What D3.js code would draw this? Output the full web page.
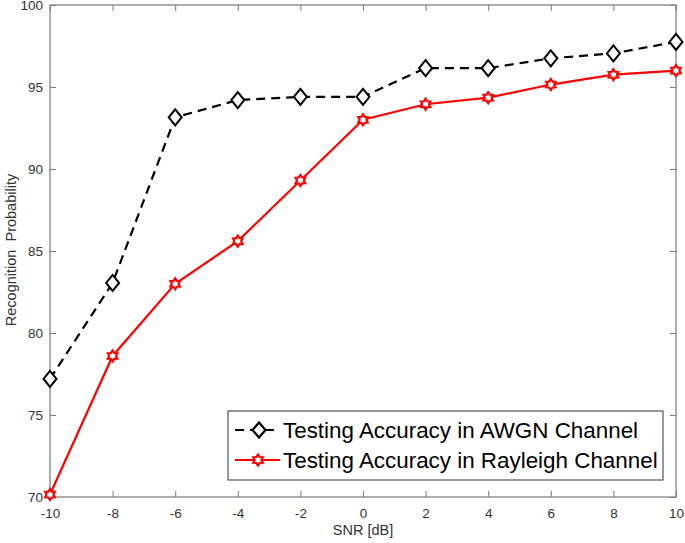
<!DOCTYPE html>
<html>
<head>
<meta charset="utf-8">
<script src="https://cdn.jsdelivr.net/npm/d3@7"></script>
<style>
body { margin: 0; background: #fff; }
text { font-family: "Liberation Sans", Arial, sans-serif; }
</style>
</head>
<body>
<div id="chart"></div>
<script>
var snr = [-10, -8, -6, -4, -2, 0, 2, 4, 6, 8, 10];
var awgn = [77.2, 83.05, 93.15, 94.2, 94.4, 94.4, 96.15, 96.15, 96.75, 97.05, 97.75];
var rayleigh = [70.15, 78.6, 83.0, 85.6, 89.3, 93.0, 93.95, 94.35, 95.15, 95.75, 96.0];
var xTicks = [-10, -8, -6, -4, -2, 0, 2, 4, 6, 8, 10];
var yTicks = [70, 75, 80, 85, 90, 95, 100];
var seriesNames = ["Testing Accuracy in AWGN Channel", "Testing Accuracy in Rayleigh Channel"];

var svgWidth = 685;
var svgHeight = 543;
var plotLeft = 50, plotRight = 676, plotTop = 5, plotBottom = 497;

var svg = d3.select("#chart")
.append("svg")
.attr("width", svgWidth)
.attr("height", svgHeight);

var xScale = d3.scaleLinear().domain([-10, 10]).range([plotLeft, plotRight]);
var yScale = d3.scaleLinear().domain([70, 100]).range([plotBottom, plotTop]);

var axisColor = "#7a7a7a";
var labelColor = "#333";
var plainFormat = function(d) { return String(d); };

function styleAxis(g) {
    g.select(".domain").remove();
    g.selectAll(".tick line").attr("stroke", axisColor);
    g.selectAll(".tick text").attr("fill", labelColor).attr("font-size", 13.5);
}

svg.append("g")
.attr("transform", "translate(0," + plotBottom + ")")
.call(d3.axisBottom(xScale).tickValues(xTicks).tickFormat(plainFormat).tickSizeInner(-6).tickSizeOuter(0).tickPadding(11))
.call(styleAxis);

svg.append("g")
.attr("transform", "translate(0," + plotTop + ")")
.call(d3.axisTop(xScale).tickValues(xTicks).tickSizeInner(-6).tickSizeOuter(0).tickFormat(""))
.call(styleAxis);

svg.append("g")
.attr("transform", "translate(" + plotLeft + ",0)")
.call(d3.axisLeft(yScale).tickValues(yTicks).tickFormat(plainFormat).tickSizeInner(-6).tickSizeOuter(0).tickPadding(7))
.call(styleAxis);

svg.append("g")
.attr("transform", "translate(" + plotRight + ",0)")
.call(d3.axisRight(yScale).tickValues(yTicks).tickSizeInner(-6).tickSizeOuter(0).tickFormat(""))
.call(styleAxis);

svg.append("rect")
.attr("x", plotLeft).attr("y", plotTop)
.attr("width", plotRight - plotLeft).attr("height", plotBottom - plotTop)
.attr("fill", "none").attr("stroke", axisColor).attr("stroke-width", 1.2);

// axis labels
svg.append("text")
.attr("x", (plotLeft + plotRight) / 2)
.attr("y", 535)
.attr("text-anchor", "middle")
.attr("font-size", 14.5)
.attr("fill", labelColor)
.text("SNR [dB]");

svg.append("text")
.attr("transform", "translate(16,250)rotate(-90)")
.attr("text-anchor", "middle")
.attr("font-size", 14.5)
.attr("fill", labelColor)
.style("white-space", "pre")
.text("Recognition  Probability");

var line = d3.line()
.x(function(d) { return xScale(d[0]); })
.y(function(d) { return yScale(d[1]); });

var awgnData = snr.map(function(s, i) { return [s, awgn[i]]; });
var rayData = snr.map(function(s, i) { return [s, rayleigh[i]]; });

svg.append("path")
.datum(awgnData)
.attr("d", line)
.attr("fill", "none")
.attr("stroke", "#000")
.attr("stroke-width", 2.2)
.attr("stroke-dasharray", "9,6");

svg.append("path")
.datum(rayData)
.attr("d", line)
.attr("fill", "none")
.attr("stroke", "#ff0000")
.attr("stroke-width", 2.2);

function diamondPath(w, h) {
    return "M0," + (-h) + "L" + w + ",0L0," + h + "L" + (-w) + ",0Z";
}
function hexagram(r) {
    var pts = [];
    for (var i = 0; i < 12; i++) {
        var a = Math.PI / 2 + i * Math.PI / 6;
        var rr = (i % 2 === 0) ? r : r * 0.62;
        pts.push([rr * Math.cos(a), -rr * Math.sin(a)]);
    }
    return "M" + pts.map(function(p) { return p[0].toFixed(2) + "," + p[1].toFixed(2); }).join("L") + "Z";
}

svg.selectAll(".awgnMark")
.data(awgnData)
.enter()
.append("path")
.attr("class", "awgnMark")
.attr("transform", function(d) { return "translate(" + xScale(d[0]) + "," + yScale(d[1]) + ")"; })
.attr("d", diamondPath(6.5, 8))
.attr("fill", "#fff")
.attr("stroke", "#000")
.attr("stroke-width", 2);

svg.selectAll(".rayMark")
.data(rayData)
.enter()
.append("path")
.attr("class", "rayMark")
.attr("transform", function(d) { return "translate(" + xScale(d[0]) + "," + yScale(d[1]) + ")"; })
.attr("d", hexagram(5.5))
.attr("fill", "#fff")
.attr("stroke", "#ff0000")
.attr("stroke-width", 2.2);

// legend
var legend = svg.append("g").attr("transform", "translate(228,411)");
legend.append("rect")
.attr("width", 435).attr("height", 69)
.attr("fill", "#fff").attr("stroke", "#333").attr("stroke-width", 1);

var legendItems = [
    { name: seriesNames[0], color: "#000", dash: "9,6", mark: diamondPath(6.5, 7.5), mx: 31 },
    { name: seriesNames[1], color: "#ff0000", dash: null, mark: hexagram(5.5), mx: 30 }
];

legendItems.forEach(function(item, i) {
    var cy = 19 + i * 30;
    legend.append("line")
    .attr("x1", 7).attr("x2", 52)
    .attr("y1", cy).attr("y2", cy)
    .attr("stroke", item.color).attr("stroke-width", 2.2)
    .attr("stroke-dasharray", item.dash);
    legend.append("path")
    .attr("transform", "translate(" + item.mx + "," + cy + ")")
    .attr("d", item.mark)
    .attr("fill", "#fff").attr("stroke", item.color).attr("stroke-width", 2.2);
    legend.append("text")
    .attr("x", 55).attr("y", cy + 8)
    .attr("font-size", 22.4)
    .attr("fill", "#000")
    .text(item.name);
});
</script>
</body>
</html>
